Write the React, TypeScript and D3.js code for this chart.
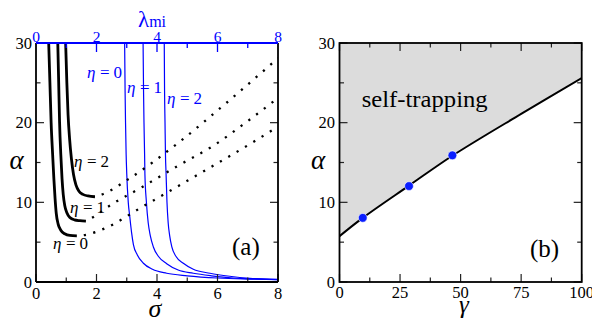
import React from "react";
import * as d3 from "d3";

// ---------- Panel (a) data ----------
const aXTicks = [0, 2, 4, 6, 8];
const aXMinor = [1, 3, 5, 7];
const aYTicks = [0, 10, 20, 30];
const aYMinor = [5, 15, 25];
const lamTicks = [0, 2, 4, 6, 8];
const lamMajorMarks = [2, 4, 6];
const lamMinor = [1, 3, 5, 7];

// black solid curves (sigma, alpha)
const blackEta0: [number, number][] = [[0.42, 30], [0.46, 25], [0.5, 20], [0.55, 16], [0.59, 13], [0.63, 10.5], [0.67, 8.6], [0.73, 7.3], [0.82, 6.5], [0.95, 6.05], [1.12, 5.85], [1.35, 5.8]];
const blackEta1: [number, number][] = [[0.72, 30], [0.75, 25], [0.78, 20], [0.82, 16], [0.86, 13], [0.9, 11], [0.95, 9.6], [1.02, 8.7], [1.12, 8.1], [1.27, 7.8], [1.45, 7.7], [1.65, 7.65]];
const blackEta2: [number, number][] = [[0.98, 30], [1.02, 25], [1.06, 21], [1.11, 18], [1.17, 15.5], [1.24, 13.5], [1.32, 12.2], [1.42, 11.4], [1.55, 11.0], [1.72, 10.8], [1.95, 10.7]];

// dotted continuations (sigma, alpha)
const dotEta0: [number, number][] = [[1.35, 5.8], [1.68, 5.95], [2.28, 6.74], [3.5, 9.4], [5, 12.7], [7.15, 17.5], [8, 19.5]];
const dotEta1: [number, number][] = [[1.65, 7.65], [2.0, 8.4], [2.23, 9.05], [3.5, 11.9], [4.7, 14.6], [5.86, 17.1], [7, 20.2], [8, 23.1]];
const dotEta2: [number, number][] = [[1.95, 10.7], [2.23, 11.05], [3.05, 12.9], [4.68, 17.4], [6.3, 22.5], [8, 28.1]];

// blue curves (lambda_mi, alpha)
const blueEta0: [number, number][] = [[2.93, 30], [2.945, 24], [2.96, 20], [2.98, 16], [3.0, 13.6], [3.05, 10], [3.1, 8.2], [3.16, 6.2], [3.22, 4.7], [3.35, 3.4], [3.55, 2.35], [3.85, 1.6], [4.32, 1.1], [5.0, 0.78], [6.0, 0.5], [7.0, 0.37], [8.0, 0.3]];
const blueEta1: [number, number][] = [[3.54, 30], [3.555, 24], [3.57, 20], [3.59, 16], [3.6, 13.6], [3.65, 10], [3.71, 7.4], [3.78, 5.8], [3.88, 4.4], [4.05, 3.2], [4.32, 2.3], [4.7, 1.5], [5.2, 1.1], [5.8, 0.78], [6.52, 0.5], [7.3, 0.38], [8.0, 0.3]];
const blueEta2: [number, number][] = [[4.24, 30], [4.25, 24], [4.265, 20], [4.28, 16], [4.3, 13.6], [4.33, 10], [4.37, 7.4], [4.42, 5.8], [4.49, 4.4], [4.63, 3.2], [4.87, 2.35], [5.2, 1.6], [5.75, 1.1], [6.4, 0.72], [7.07, 0.46], [8.0, 0.32]];

// ---------- Panel (b) data ----------
const bXTicks = [0, 25, 50, 75, 100];
const bXMinor = [12.5, 37.5, 62.5, 87.5];
const bYTicks = [0, 10, 20, 30];
const bYMinor = [5, 15, 25];
const boundary: [number, number][] = [[0, 5.75], [9.6, 8.05], [28.7, 12.1], [46.6, 15.85], [75, 21.1], [100, 25.6]];
const simPoints: [number, number][] = [[9.6, 8.05], [28.7, 12.04], [46.6, 15.9]];

const FONT = "'Liberation Serif', 'Times New Roman', Times, serif";
const BLUE = "#0000ff";

const EtaLabel = ({ x, y, v, color }: { x: number; y: number; v: string; color: string }) => (
  <text x={x} y={y} fontSize={17} fill={color} style={{ fontFamily: FONT }}>
    <tspan fontStyle="italic">η</tspan>
    <tspan dx={4.5}>=</tspan>
    <tspan dx={4}>{v}</tspan>
  </text>
);

export default function App() {
  const yTop = 43, yBot = 282;
  const xA = d3.scaleLinear().domain([0, 8]).range([36, 278]);
  const yA = d3.scaleLinear().domain([0, 30]).range([yBot, yTop]);
  const xB = d3.scaleLinear().domain([0, 100]).range([339.5, 581.7]);
  const yB = yA;

  const lineA = d3.line<[number, number]>().x(d => xA(d[0])).y(d => yA(d[1])).curve(d3.curveMonotoneX);
  const lineB = d3.line<[number, number]>().x(d => xB(d[0])).y(d => yB(d[1])).curve(d3.curveCatmullRom);
  const areaB = d3.area<[number, number]>().x(d => xB(d[0])).y0(yB(30)).y1(d => yB(d[1])).curve(d3.curveCatmullRom);

  const MAJ = 8, MIN = 4.5;
  const ax0 = xA(0), ax1 = xA(8), bx0 = xB(0), bx1 = xB(100);
  const tf = { fontFamily: FONT };

  return (
    <div style={{ position: "absolute", left: 0, top: 0 }}>
      <svg width={592} height={322} viewBox="0 0 592 322" style={{ display: "block", background: "#fff", fontFamily: FONT }}>
        <defs>
          <clipPath id="clipA"><rect x={ax0} y={yTop} width={ax1 - ax0} height={yBot - yTop} /></clipPath>
          <clipPath id="clipB"><rect x={bx0} y={yTop} width={bx1 - bx0} height={yBot - yTop} /></clipPath>
        </defs>

        {/* ===== Panel (a) ===== */}
        <g clipPath="url(#clipA)">
          {[blueEta0, blueEta1, blueEta2].map((c, i) => (
            <path key={"bl" + i} d={lineA(c) || ""} fill="none" stroke={BLUE} strokeWidth={1.2} />
          ))}
          {[dotEta0, dotEta1, dotEta2].map((c, i) => (
            <path key={"dt" + i} d={lineA(c) || ""} fill="none" stroke="#000" strokeWidth={2.3} strokeDasharray="2.2 7.5" strokeDashoffset={-7} />
          ))}
          {[blackEta0, blackEta1, blackEta2].map((c, i) => (
            <path key={"bk" + i} d={lineA(c) || ""} fill="none" stroke="#000" strokeWidth={2.8} />
          ))}
        </g>

        {aYTicks.map(v => (
          <g key={"ayt" + v}>
            <line x1={ax0} x2={ax0 + MAJ} y1={yA(v)} y2={yA(v)} stroke="#222" strokeWidth={1.2} />
            <line x1={ax1} x2={ax1 - MAJ} y1={yA(v)} y2={yA(v)} stroke="#222" strokeWidth={1.2} />
            <text x={32} y={yA(v) + 5.5} textAnchor="end" fontSize={16.5} style={tf}>{v}</text>
          </g>
        ))}
        {aYMinor.map(v => (
          <g key={"aym" + v}>
            <line x1={ax0} x2={ax0 + MIN} y1={yA(v)} y2={yA(v)} stroke="#222" strokeWidth={1.2} />
            <line x1={ax1} x2={ax1 - MIN} y1={yA(v)} y2={yA(v)} stroke="#222" strokeWidth={1.2} />
          </g>
        ))}
        {aXTicks.map(v => (
          <g key={"axt" + v}>
            <line x1={xA(v)} x2={xA(v)} y1={yBot} y2={yBot - MAJ} stroke="#222" strokeWidth={1.2} />
            <text x={xA(v)} y={298.5} textAnchor="middle" fontSize={16.5} style={tf}>{v}</text>
          </g>
        ))}
        {aXMinor.map(v => (
          <line key={"axm" + v} x1={xA(v)} x2={xA(v)} y1={yBot} y2={yBot - MIN} stroke="#222" strokeWidth={1.2} />
        ))}
        {lamMajorMarks.map(v => (
          <line key={"ltm" + v} x1={xA(v)} x2={xA(v)} y1={yTop} y2={yTop + 9} stroke={BLUE} strokeWidth={1.3} />
        ))}
        {lamMinor.map(v => (
          <line key={"lmn" + v} x1={xA(v)} x2={xA(v)} y1={yTop} y2={yTop + 5} stroke={BLUE} strokeWidth={1.3} />
        ))}
        {lamTicks.map(v => (
          <text key={"ltl" + v} x={xA(v)} y={41.5} textAnchor="middle" fontSize={15.5} fill={BLUE} style={tf}>{v}</text>
        ))}

        <line x1={ax0} x2={ax0} y1={yTop} y2={yBot} stroke="#000" strokeWidth={1.8} />
        <line x1={ax1} x2={ax1} y1={yTop} y2={yBot} stroke="#000" strokeWidth={1.8} />
        <line x1={ax0} x2={ax1} y1={yBot} y2={yBot} stroke="#000" strokeWidth={1.8} />
        <line x1={ax0} x2={ax1} y1={yTop} y2={yTop} stroke={BLUE} strokeWidth={2} />

        <text x={138} y={26.5} fontSize={23} fill={BLUE} style={tf}>λ<tspan fontSize={16} dy={0.5}>mi</tspan></text>
        <text x={155} y={317} textAnchor="middle" fontSize={26} fontStyle="italic" style={tf}>σ</text>
        <text x={16.5} y={169} textAnchor="middle" fontSize={27} fontStyle="italic" style={tf}>α</text>

        <EtaLabel x={87} y={78} v="0" color={BLUE} />
        <EtaLabel x={127} y={92.5} v="1" color={BLUE} />
        <EtaLabel x={167} y={104} v="2" color={BLUE} />
        <EtaLabel x={74} y={166.5} v="2" color="#000" />
        <EtaLabel x={70} y={213} v="1" color="#000" />
        <EtaLabel x={53} y={249} v="0" color="#000" />
        <text x={232} y={255} fontSize={25} style={tf}>(a)</text>

        {/* ===== Panel (b) ===== */}
        <g clipPath="url(#clipB)">
          <path d={areaB(boundary) || ""} fill="#dcdcdc" stroke="none" />
          <path d={lineB(boundary) || ""} fill="none" stroke="#000" strokeWidth={2} />
        </g>
        {simPoints.map((p, i) => (
          <circle key={"sp" + i} cx={xB(p[0])} cy={yB(p[1])} r={4.4} fill="#0a1eff" stroke="#fff" strokeWidth={0.6} />
        ))}
        {bYTicks.map(v => (
          <g key={"byt" + v}>
            <line x1={bx0} x2={bx0 + MAJ} y1={yB(v)} y2={yB(v)} stroke="#222" strokeWidth={1.2} />
            <line x1={bx1} x2={bx1 - MAJ} y1={yB(v)} y2={yB(v)} stroke="#222" strokeWidth={1.2} />
            <text x={335} y={yB(v) + 5.5} textAnchor="end" fontSize={16.5} style={tf}>{v}</text>
          </g>
        ))}
        {bYMinor.map(v => (
          <g key={"bym" + v}>
            <line x1={bx0} x2={bx0 + MIN} y1={yB(v)} y2={yB(v)} stroke="#222" strokeWidth={1.2} />
            <line x1={bx1} x2={bx1 - MIN} y1={yB(v)} y2={yB(v)} stroke="#222" strokeWidth={1.2} />
          </g>
        ))}
        {bXTicks.map(v => (
          <g key={"bxt" + v}>
            <line x1={xB(v)} x2={xB(v)} y1={yBot} y2={yBot - MAJ} stroke="#222" strokeWidth={1.2} />
            <line x1={xB(v)} x2={xB(v)} y1={yTop} y2={yTop + MAJ} stroke="#222" strokeWidth={1.2} />
            <text x={xB(v)} y={297.5} textAnchor="middle" fontSize={16.5} style={tf}>{v}</text>
          </g>
        ))}
        {bXMinor.map(v => (
          <g key={"bxm" + v}>
            <line x1={xB(v)} x2={xB(v)} y1={yBot} y2={yBot - MIN} stroke="#222" strokeWidth={1.2} />
            <line x1={xB(v)} x2={xB(v)} y1={yTop} y2={yTop + MIN} stroke="#222" strokeWidth={1.2} />
          </g>
        ))}
        <rect x={bx0} y={yTop} width={bx1 - bx0} height={yBot - yTop} fill="none" stroke="#000" strokeWidth={1.8} />

        <text x={361.7} y={106.5} fontSize={22.5} textLength={126} lengthAdjust="spacingAndGlyphs" style={tf}>self-trapping</text>
        <text x={530} y={256.5} fontSize={25} style={tf}>(b)</text>
        <text x={318} y={169} textAnchor="middle" fontSize={27} fontStyle="italic" style={tf}>α</text>
        <text x={464} y={313} textAnchor="middle" fontSize={25} fontStyle="italic" style={tf}>γ</text>
      </svg>
    </div>
  );
}
